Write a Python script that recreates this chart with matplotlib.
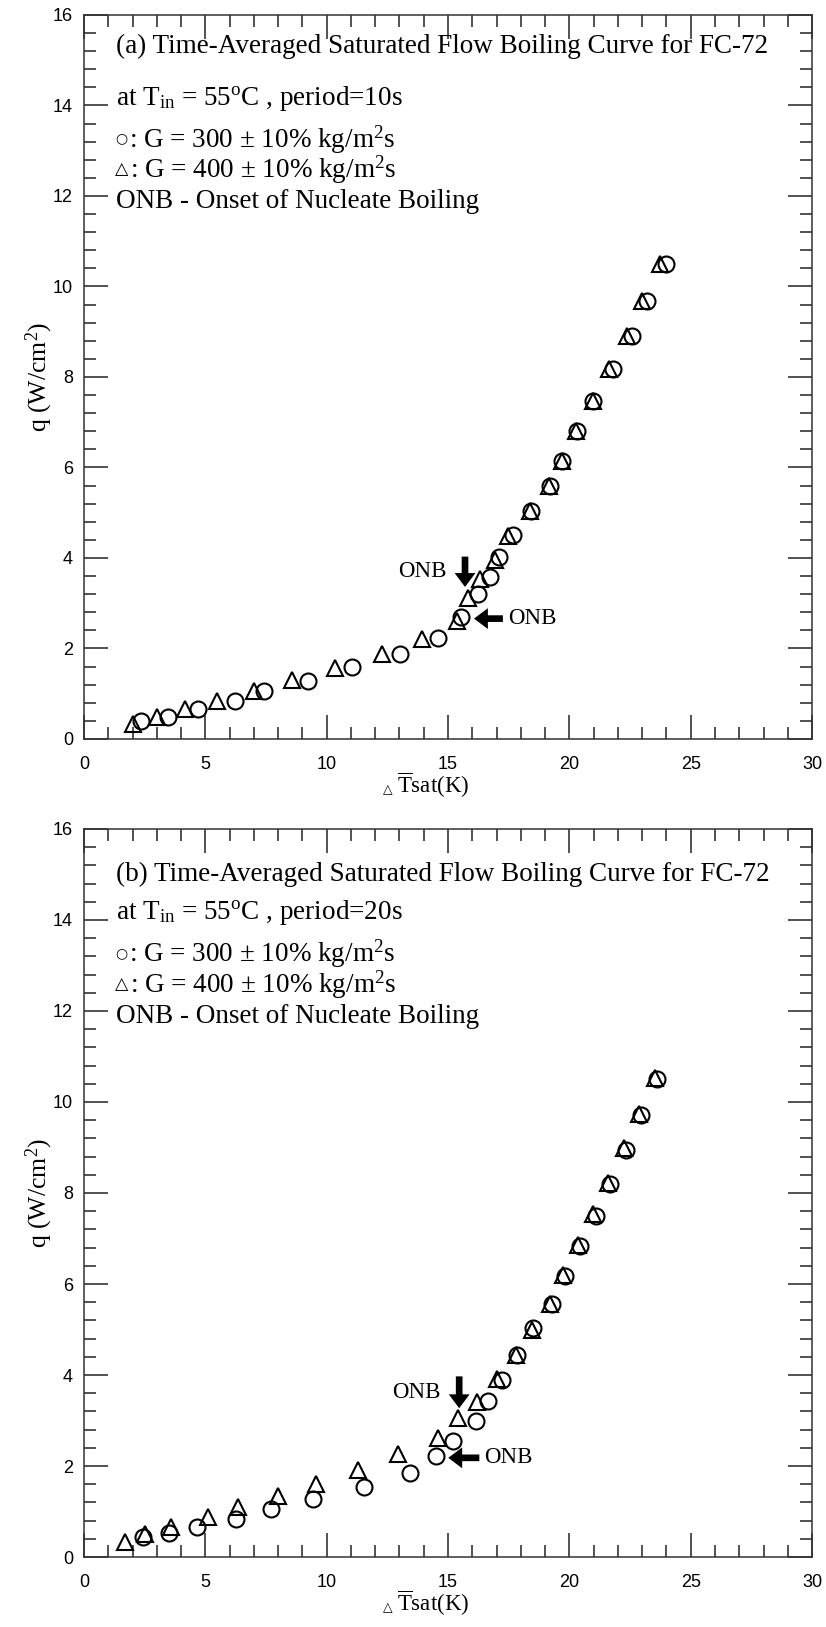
import matplotlib
matplotlib.use("Agg")
import matplotlib.pyplot as plt
from matplotlib.ticker import MultipleLocator
from matplotlib.offsetbox import TextArea, HPacker, AnnotationBbox

plt.rcParams['mathtext.fontset'] = 'custom'
plt.rcParams['mathtext.rm'] = 'Liberation Serif'
plt.rcParams['mathtext.it'] = 'Liberation Serif:italic'
plt.rcParams['mathtext.bf'] = 'Liberation Serif:bold'

SERIF = 'Liberation Serif'
SANS = 'Liberation Sans'
SYM = 'DejaVu Sans'

# (a) period = 10 s
dt_a_300 = [2.34, 3.45, 4.68, 6.24, 7.42, 9.23, 11.06, 13.02, 14.60, 15.52,
            16.25, 16.73, 17.10, 17.69, 18.42, 19.20, 19.71, 20.30, 20.99,
            21.81, 22.59, 23.21, 23.97]
q_a_300 = [0.40, 0.49, 0.66, 0.83, 1.05, 1.29, 1.58, 1.88, 2.23, 2.69,
           3.21, 3.59, 4.03, 4.51, 5.03, 5.60, 6.15, 6.80, 7.47,
           8.18, 8.91, 9.69, 10.49]
dt_a_400 = [2.03, 3.02, 4.15, 5.47, 7.00, 8.58, 10.35, 12.27, 13.94, 15.38,
            15.83, 16.32, 16.93, 17.48, 18.38, 19.15, 19.68, 20.27, 20.96,
            21.62, 22.38, 22.98, 23.72]
q_a_400 = [0.34, 0.49, 0.66, 0.84, 1.05, 1.31, 1.57, 1.88, 2.21, 2.60,
           3.11, 3.53, 3.96, 4.48, 5.03, 5.60, 6.15, 6.80, 7.47,
           8.18, 8.91, 9.69, 10.49]

# (b) period = 20 s
dt_b_300 = [2.42, 3.50, 4.67, 6.25, 7.69, 9.45, 11.54, 13.43, 14.50, 15.19,
            16.15, 16.66, 17.21, 17.86, 18.51, 19.27, 19.82, 20.44, 21.08,
            21.67, 22.33, 22.95, 23.62]
q_b_300 = [0.45, 0.52, 0.67, 0.83, 1.05, 1.27, 1.53, 1.84, 2.21, 2.56,
           2.98, 3.43, 3.90, 4.43, 5.03, 5.55, 6.17, 6.83, 7.50,
           8.20, 8.95, 9.71, 10.51]
dt_b_400 = [1.69, 2.51, 3.58, 5.12, 6.36, 8.01, 9.56, 11.30, 12.95, 14.60,
            15.42, 16.18, 17.03, 17.82, 18.45, 19.20, 19.75, 20.35, 20.98,
            21.58, 22.25, 22.85, 23.52]
q_b_400 = [0.32, 0.51, 0.67, 0.89, 1.11, 1.35, 1.61, 1.92, 2.27, 2.61,
           3.05, 3.40, 3.91, 4.45, 4.98, 5.57, 6.20, 6.85, 7.53,
           8.23, 8.98, 9.74, 10.53]

panel_tags = ['a', 'b']
periods = ['10s', '20s']

ARROW = dict(arrowstyle='simple,head_length=0.5,head_width=0.75,tail_width=0.24',
             mutation_scale=20, fc='k', ec='k', lw=0, shrinkA=0, shrinkB=0)


def onb_arrow(ax, start, end):
    ax.annotate('', xy=end, xytext=start, arrowprops=ARROW)


def draw_panel(ax, dt300, q300, dt400, q400, tag, period, down, left, title_y):
    ax.plot(dt400, q400, linestyle='none', marker='^', ms=11.5,
            mfc='none', mec='k', mew=1.5)
    ax.plot(dt300, q300, linestyle='none', marker='o', ms=11.5,
            mfc='none', mec='k', mew=1.5)

    ax.set_xlim(0, 30)
    ax.set_ylim(0, 16)
    ax.xaxis.set_major_locator(MultipleLocator(5))
    ax.xaxis.set_minor_locator(MultipleLocator(1))
    ax.yaxis.set_major_locator(MultipleLocator(2))
    ax.yaxis.set_minor_locator(MultipleLocator(0.4))
    ax.tick_params(which='both', direction='in', top=True, right=True,
                   width=1.1, color='#222')
    ax.tick_params(which='major', length=17)
    ax.tick_params(which='minor', length=8.6)
    ax.tick_params(axis='x', which='major', pad=12, labelsize=13)
    ax.tick_params(axis='y', which='major', pad=8, labelsize=13)
    for lab in ax.get_xticklabels() + ax.get_yticklabels():
        lab.set_fontfamily(SANS)
    for sp in ax.spines.values():
        sp.set_linewidth(1.1)
        sp.set_color('#333')

    # description block
    fs = 19.5
    ax.text(1.32, title_y, f'({tag}) Time-Averaged Saturated Flow Boiling Curve for FC-72',
            family=SERIF, size=fs)
    ax.text(1.32, 14.02, r'at T$_{\mathrm{in}}$ = 55$^{\mathrm{o}}$C , period=' + period,
            family=SERIF, size=fs)
    ax.text(1.54, 13.08 + 0.2, '\u25cb', family=SYM, size=10,
            ha='center', va='center')
    ax.text(1.84, 13.08, r': G = 300 ± 10% kg/m$^{\mathrm{2}}$s', family=SERIF, size=fs)
    ax.text(1.56, 12.40 + 0.2, '\u25b3', family=SYM, size=12.5,
            ha='center', va='center')
    ax.text(1.90, 12.40, r': G = 400 ± 10% kg/m$^{\mathrm{2}}$s', family=SERIF, size=fs)
    ax.text(1.32, 11.74, 'ONB - Onset of Nucleate Boiling', family=SERIF, size=fs)

    # onset of nucleate boiling markers
    dx, dy0, dy1 = down
    onb_arrow(ax, (dx, dy0), (dx, dy1))
    ax.text(dx - 1.75, (dy0 + dy1) / 2, 'ONB', family=SERIF, size=16.5,
            ha='center', va='center')
    lx0, lx1, ly = left
    onb_arrow(ax, (lx0, ly), (lx1, ly))
    ax.text(lx0 + 0.2, ly, 'ONB', family=SERIF, size=16.5,
            ha='left', va='center')

    ax.set_ylabel('q (W/cm$^{\\mathrm{2}}$)', family=SERIF, size=18.5)
    ax.yaxis.set_label_coords(-0.040, 0.5)

    tri = TextArea('\u25b3', textprops=dict(family=SYM, size=9))
    main = TextArea(r'$\overline{\mathrm{T}}$sat(K)', textprops=dict(family=SERIF, size=16.5))
    box = HPacker(children=[tri, main], align='baseline', pad=0, sep=3)
    ab = AnnotationBbox(box, (0.47, -0.064), xycoords='axes fraction',
                        box_alignment=(0.5, 0.5), frameon=False)
    ax.add_artist(ab)


fig = plt.figure(figsize=(8.26, 16.27), dpi=100)
ax_a = fig.add_axes([0.1017, 0.5458, 0.8814, 0.4450])
ax_b = fig.add_axes([0.1017, 0.0430, 0.8814, 0.4475])

draw_panel(ax_a, dt_a_300, q_a_300, dt_a_400, q_a_400, panel_tags[0], periods[0],
           down=(15.70, 4.03, 3.36), left=(17.26, 16.07, 2.66), title_y=15.16)
draw_panel(ax_b, dt_b_300, q_b_300, dt_b_400, q_b_400, panel_tags[1], periods[1],
           down=(15.46, 3.97, 3.27), left=(16.29, 15.01, 2.18), title_y=14.85)

fig.savefig('out.png', dpi=100)
